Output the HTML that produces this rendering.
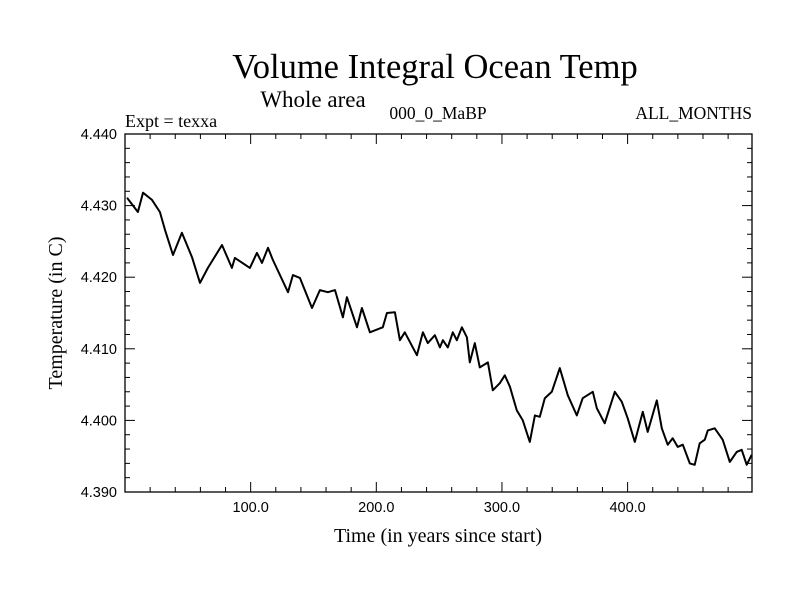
<!DOCTYPE html>
<html><head><meta charset="utf-8"><style>
body{margin:0;background:#fff;width:800px;height:600px;overflow:hidden}
svg text{fill:#000}
</style></head><body>
<svg id="chart" width="800" height="600" xmlns="http://www.w3.org/2000/svg">
<text x="435" y="78" font-family="Liberation Serif, serif" font-size="34.5" text-anchor="middle">Volume Integral Ocean Temp</text>
<text x="313" y="107" font-family="Liberation Serif, serif" font-size="23" text-anchor="middle">Whole area</text>
<text x="125" y="127" font-family="Liberation Serif, serif" font-size="18">Expt = texxa</text>
<text x="438" y="119" font-family="Liberation Serif, serif" font-size="17.5" text-anchor="middle">000_0_MaBP</text>
<text x="752" y="119" font-family="Liberation Serif, serif" font-size="17.5" text-anchor="end">ALL_MONTHS</text>
<text x="438" y="542" font-family="Liberation Serif, serif" font-size="20" text-anchor="middle">Time (in years since start)</text>
<text transform="translate(62,313) rotate(-90)" font-family="Liberation Serif, serif" font-size="20" text-anchor="middle">Temperature (in C)</text>
<g id="axes"></g>
<path id="line" fill="none" stroke="#000" stroke-width="2" stroke-linejoin="round"/>
<rect x="125" y="134" width="627" height="358" fill="none" stroke="#000" stroke-width="1.3"/>
</svg>
<script>
const years=[1.6,10.3,14.3,21.5,27.8,31.8,38.2,45.3,53.3,59.7,66.0,77.2,85.1,87.5,99.4,105.0,109.0,113.8,117.7,129.7,133.6,139.2,148.8,155.1,161.5,167.1,173.4,176.6,184.6,188.5,194.9,205.2,208.4,214.8,218.8,222.7,232.3,237.1,241.0,246.6,250.6,253.0,256.9,260.9,264.1,268.1,272.1,274.4,278.4,282.4,288.8,292.7,298.3,302.3,306.3,311.8,316.6,322.2,326.2,330.1,334.1,339.7,346.0,352.4,359.6,364.3,372.3,375.5,381.8,389.8,395.4,400.1,405.7,412.1,416.0,423.2,427.2,431.9,435.9,439.9,443.9,449.5,453.4,457.4,461.4,463.8,469.3,475.7,481.3,486.8,490.8,494.8,498.8];
const temps=[4.4311,4.4291,4.4318,4.4308,4.4291,4.4266,4.4231,4.4262,4.4228,4.4192,4.4213,4.4245,4.4213,4.4227,4.4213,4.4234,4.4220,4.4241,4.4224,4.4179,4.4203,4.4199,4.4157,4.4182,4.4179,4.4182,4.4144,4.4172,4.4130,4.4157,4.4123,4.4130,4.4150,4.4151,4.4112,4.4123,4.4091,4.4123,4.4108,4.4119,4.4102,4.4112,4.4102,4.4123,4.4112,4.4130,4.4116,4.4081,4.4108,4.4074,4.4081,4.4042,4.4052,4.4063,4.4047,4.4014,4.4000,4.3970,4.4007,4.4005,4.4031,4.4040,4.4073,4.4035,4.4007,4.4031,4.4040,4.4017,4.3996,4.4040,4.4026,4.4003,4.3970,4.4012,4.3984,4.4028,4.3989,4.3966,4.3975,4.3963,4.3966,4.3940,4.3938,4.3968,4.3973,4.3986,4.3989,4.3973,4.3942,4.3956,4.3959,4.3938,4.3952];
const xTicks=[100,200,300,400];
const xTickLabels=["100.0","200.0","300.0","400.0"];
const yTicks=[4.390,4.400,4.410,4.420,4.430,4.440];
const yTickLabels=["4.390","4.400","4.410","4.420","4.430","4.440"];
const L=125,R=752,T=134,B=492,X0=0,X1=499,Y0=4.390,Y1=4.440;
const xs=v=>L+(v-X0)/(X1-X0)*(R-L);
const ys=v=>B-(v-Y0)/(Y1-Y0)*(B-T);
const NS="http://www.w3.org/2000/svg";
const g=document.getElementById('axes');
function ln(x1,y1,x2,y2,name){const e=document.createElementNS(NS,'line');e.setAttribute('x1',x1);e.setAttribute('y1',y1);e.setAttribute('x2',x2);e.setAttribute('y2',y2);e.setAttribute('stroke','#000');e.setAttribute('stroke-width','1');


g.appendChild(e);}
function tx(x,y,s,anchor,name){const e=document.createElementNS(NS,'text');e.setAttribute('x',x);e.setAttribute('y',y);e.setAttribute('text-anchor',anchor);e.setAttribute('font-family','Liberation Sans, sans-serif');e.setAttribute('font-size','14.5');e.textContent=s;


g.appendChild(e);}
for(let t=20;t<X1;t+=20){const x=xs(t);const maj=t%100===0;const l=maj?10:5;ln(x,B,x,B-l,'x-tick');ln(x,T,x,T+l,'x-tick-top');}
xTicks.forEach((t,i)=>tx(xs(t),512,xTickLabels[i],'middle','x-tick-label'));
for(let k=0;k<=25;k++){const v=Y0+k*0.002;const y=ys(v);const maj=k%5===0;const l=maj?10:5;ln(L,y,L+l,y,'y-tick');ln(R,y,R-l,y,'y-tick-right');}
yTicks.forEach((v,i)=>tx(117,ys(v)+5,yTickLabels[i],'end','y-tick-label'));
document.getElementById('line').setAttribute('d',years.map((t,i)=>(i?'L':'M')+xs(t).toFixed(1)+','+ys(temps[i]).toFixed(1)).join(''));
</script>
</body></html>
